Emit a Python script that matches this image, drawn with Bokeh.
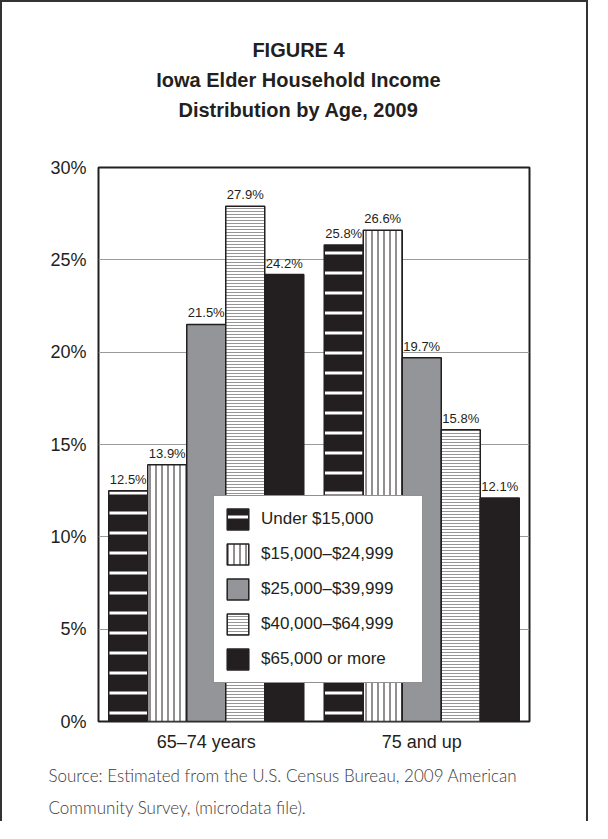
from bokeh.plotting import figure
from bokeh.models import (ColumnDataSource, FactorRange, Range1d, Title,
                          FixedTicker, PrintfTickFormatter)
from bokeh.transform import dodge
from bokeh.core.properties import value
from bokeh.embed import file_html
from bokeh.resources import INLINE

# ---------------- data ----------------
ages = ["65\u201374 years", "75 and up"]
series_names = ["Under $15,000", "$15,000\u2013$24,999", "$25,000\u2013$39,999",
                "$40,000\u2013$64,999", "$65,000 or more"]
under_15k = [12.5, 25.8]
k15_to_25 = [13.9, 26.6]
k25_to_40 = [21.5, 19.7]
k40_to_65 = [27.9, 15.8]
k65_plus = [24.2, 12.1]
y_ticks = [0, 5, 10, 15, 20, 25, 30]
title_lines = ["FIGURE 4", "Iowa Elder Household Income", "Distribution by Age, 2009"]
source_lines = ["Source: Estimated from the U.S. Census Bureau, 2009 American",
                "Community Survey, (microdata file)."]

series_values = [under_15k, k15_to_25, k25_to_40, k40_to_65, k65_plus]
keys = ["s0", "s1", "s2", "s3", "s4"]

data = {"age": ages}
for k, vals in zip(keys, series_values):
    data[k] = vals
    data[k + "_lbl"] = [f"{v}%" for v in vals]
source = ColumnDataSource(data)

INK = "#231f20"
GRAY = "#939598"
styles = [
    dict(fill_color=INK, hatch_pattern="-", hatch_color="white", hatch_scale=20, hatch_weight=3),
    dict(fill_color="white", hatch_pattern="|", hatch_color=INK, hatch_scale=6, hatch_weight=1),
    dict(fill_color=GRAY),
    dict(fill_color="white", hatch_pattern="-", hatch_color="#959595", hatch_scale=3, hatch_weight=1),
    dict(fill_color=INK),
]

SANS = "Liberation Sans, Arial, sans-serif"
LIGHT = "Lato Light, Lato, sans-serif"

FRAME_L, FRAME_T, FRAME_R, FRAME_B = 96, 165, 527, 719
W, H = 588, 821

p = figure(x_range=FactorRange(*ages), y_range=Range1d(0, 30),
           width=W, height=H, output_backend="svg", toolbar_location=None,
           min_border_left=FRAME_L, min_border_top=FRAME_T,
           min_border_right=W - FRAME_R, min_border_bottom=H - FRAME_B)
p.styles = {"border-top": "2px solid #333333", "border-left": "2px solid #333333",
            "border-right": "2px solid #333333"}

bar_w = 0.181
for i, (k, name, st) in enumerate(zip(keys, series_names, styles)):
    off = (i - 2) * bar_w
    p.vbar(x=dodge("age", off, range=p.x_range), top=k, width=bar_w, source=source,
           line_color=INK, line_width=1.5, legend_label=name, **st)
    p.text(x=dodge("age", off, range=p.x_range), y=k, text=k + "_lbl", source=source,
           text_align="center", text_baseline="bottom", y_offset=-4,
           text_font=value(SANS), text_font_size="13px", text_color=INK)

# axes & grid
p.xgrid.grid_line_color = None
p.ygrid.ticker = FixedTicker(ticks=y_ticks)
p.ygrid.grid_line_color = "#9a9a9a"
p.ygrid.grid_line_width = 1
p.yaxis.ticker = FixedTicker(ticks=y_ticks)
p.yaxis.formatter = PrintfTickFormatter(format="%d%%")
for ax in (p.xaxis, p.yaxis):
    ax.axis_line_color = None
    ax.major_tick_line_color = None
    ax.minor_tick_line_color = None
    ax.major_tick_out = 0
    ax.major_tick_in = 0
    ax.minor_tick_out = 0
    ax.major_label_text_font = SANS
    ax.major_label_text_font_size = "18px"
    ax.major_label_text_color = INK
p.yaxis.major_label_standoff = 12
p.xaxis.major_label_standoff = 10
p.outline_line_color = INK
p.outline_line_width = 2
p.background_fill_color = "white"
p.border_fill_color = "white"

# legend
lg = p.legend[0]
lg.location = (115, 38)
lg.glyph_width = 27
lg.glyph_height = 26
lg.label_standoff = 10
lg.spacing = 9
lg.padding = 10
lg.margin = 0
lg.label_width = 151
lg.label_text_font = SANS
lg.label_text_font_size = "17px"
lg.label_text_color = INK
lg.border_line_color = INK
lg.border_line_width = 1.5
lg.background_fill_color = "white"
lg.background_fill_alpha = 1

# ---- title block (above), centred on the page ----
ARIAL_BOLD = {" ": 278, ",": 278, "A": 722, "D": 722, "E": 667, "F": 611, "G": 778,
              "H": 722, "I": 278, "R": 722, "U": 722, "a": 556, "b": 611, "c": 556,
              "d": 611, "e": 556, "g": 611, "h": 611, "i": 278, "l": 278, "m": 889,
              "n": 611, "o": 611, "r": 389, "s": 556, "t": 333, "u": 611, "w": 778,
              "y": 556}
TITLE_FS = 20
CENTER_X = 296


def text_w(s, fs):
    return sum(ARIAL_BOLD.get(c, 556) for c in s) * fs / 1000.0


for j, txt in enumerate(reversed(title_lines)):   # first added sits nearest the frame
    shown = txt + ("\n\n" if j == 0 else "")       # two empty lines = gap above frame
    p.add_layout(Title(text=shown, align="left",
                       offset=CENTER_X - text_w(txt, TITLE_FS) / 2 - FRAME_L,
                       standoff=6, vertical_align="bottom",
                       text_font=SANS, text_font_style="bold",
                       text_font_size=f"{TITLE_FS}px", text_color=INK), "above")

# ---- source note (below) ----
for j, txt in enumerate(source_lines):
    p.add_layout(Title(text=txt, align="left", offset=-50,
                       standoff=16 if j == 0 else 3,
                       vertical_align="bottom", text_font=LIGHT,
                       text_font_style="normal", text_font_size="17px",
                       text_color="#3a3a3a"), "below")

open("out.html", "w").write(file_html(p, INLINE))
